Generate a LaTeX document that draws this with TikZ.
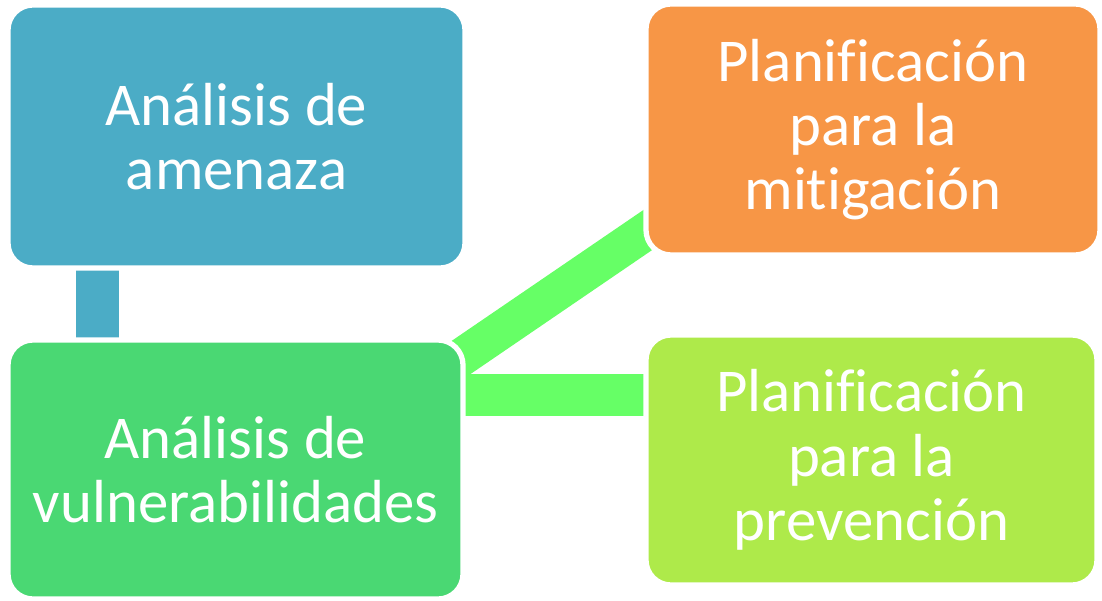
\documentclass[tikz,border=0pt]{standalone}
\usepackage{fontspec}
\setmainfont[Ligatures=NoCommon]{Carlito}
\usepackage{tikz}
\usetikzlibrary{backgrounds}

\definecolor{amenaza}{HTML}{4BACC6}
\definecolor{vulner}{HTML}{4AD873}
\definecolor{mitig}{HTML}{F79646}
\definecolor{prevenc}{HTML}{AEEA4A}
\definecolor{enlace}{HTML}{66FF66}

\tikzset{caja/.style={rounded corners=2.5mm, draw=white, line width=1.5pt, text=white,
    align=center, inner sep=0pt, font=\fontsize{17.3}{18.3}\selectfont}}

\begin{document}
\begin{tikzpicture}[x=0.1mm,y=-0.1mm]
    \useasboundingbox (0,0) rectangle (1102,600);

    % Left column (A over B)
    \node[caja, fill=amenaza, minimum width=45.7mm, minimum height=26.3mm] (amenaza) at (236.5,136.5) {Análisis de\\amenaza};
    \node[caja, fill=vulner, minimum width=45.5mm, minimum height=25.9mm] (vulner) at (235.5,469.5) {Análisis de\\vulnerabilidades};

    % Right column (C over D)
    \node[caja, fill=mitig, minimum width=45.4mm, minimum height=25.1mm] (mitig) at (873,129.5) {Planificación\\para la\\mitigación};
    \node[caja, fill=prevenc, minimum width=45.1mm, minimum height=25mm] (prevenc) at (871.5,460) {Planificación\\para la\\prevención};

    % links, kept under the boxes
    \coordinate (hband) at ([shift={(-20,58)}]vulner.north east);
    \begin{scope}[on background layer]
        \draw[amenaza, line width=4.3mm] ([shift={(92,-10)}]amenaza.south west) -- ([shift={(92,10)}]vulner.north west);
        \draw[enlace, line width=3.8mm] ([shift={(-22,32)}]vulner.north east) -- ([shift={(24,-41)}]mitig.south west);
        \draw[enlace, line width=4.2mm] (hband) -- ([xshift=2mm]hband -| prevenc.west);
    \end{scope}
\end{tikzpicture}
\end{document}
